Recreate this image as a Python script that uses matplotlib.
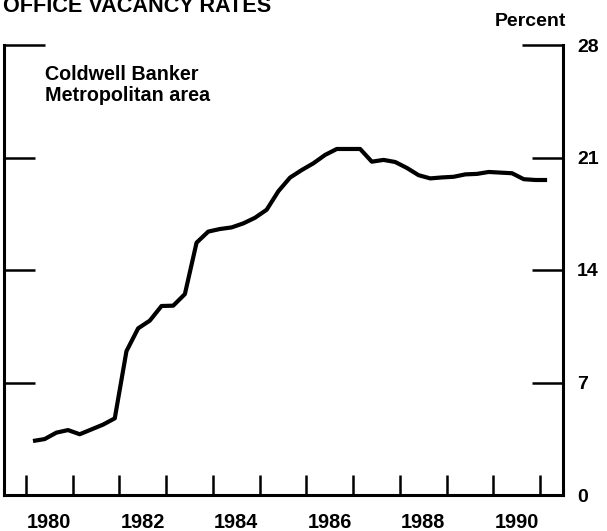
import matplotlib
matplotlib.use("Agg")
import matplotlib.pyplot as plt
import numpy as np
import pandas as pd

plt.rcParams['font.family'] = ['Liberation Sans', 'DejaVu Sans']
plt.rcParams['font.weight'] = 'bold'

# Quarterly observations, 1980Q1 .. 1991Q1
quarters = pd.period_range('1980Q1', '1991Q1', freq='Q')
vacancy = [3.36, 3.48, 3.88, 4.04, 3.78, 4.08, 4.38, 4.77,
           8.95, 10.37, 10.85, 11.76, 11.78, 12.50, 15.70, 16.39,
           16.55, 16.65, 16.90, 17.25, 17.75, 18.90, 19.75, 20.22,
           20.64, 21.16, 21.53, 21.53, 21.53, 20.74, 20.85, 20.72,
           20.35, 19.90, 19.70, 19.76, 19.80, 19.95, 19.98, 20.10,
           20.06, 20.02, 19.65, 19.60, 19.60]
year_ticks = list(range(1980, 1992))
label_years = [1980, 1982, 1984, 1986, 1988, 1990]
y_major = [0, 7, 14, 21]
y_top = [28]

x = np.array([p.year + (p.quarter - 1) / 4 + 0.15 for p in quarters])

fig = plt.figure(figsize=(6.07, 5.31), dpi=100)
ax = fig.add_axes([4/607, 1 - 495/531, (563 - 4)/607, (495 - 45)/531])

ax.plot(x, vacancy, color='black', lw=3.0, solid_capstyle='butt', solid_joinstyle='round')

ax.set_xlim(1979.53, 1991.49)
ax.set_ylim(0, 28)

for s in ['left', 'right', 'bottom']:
    ax.spines[s].set_linewidth(2.2)
ax.spines['top'].set_visible(False)

ax.set_xticks(year_ticks)
ax.set_xticklabels([])
ax.set_xticks([y + 0.5 for y in label_years], minor=True)
ax.set_xticklabels([str(y) for y in label_years], minor=True)
ax.tick_params(axis='x', which='major', direction='in', length=14.4, width=1.8, top=False)
ax.tick_params(axis='x', which='minor', length=0, pad=13, labelsize=14.3)

ax.set_yticks(y_major)
ax.set_yticklabels([str(v) for v in y_major])
ax.set_yticks(y_top, minor=True)
ax.set_yticklabels([str(v) for v in y_top], minor=True)
ax.tick_params(axis='y', which='both', left=True, right=True, labelleft=False, labelright=True,
               direction='in', width=1.8, pad=10, labelsize=14)
ax.tick_params(axis='y', which='major', length=22.3)
ax.tick_params(axis='y', which='minor', length=29.5)

for lab in ax.get_xticklabels(minor=True) + ax.get_yticklabels() + ax.get_yticklabels(minor=True):
    lab.set_fontweight('bold')

ax.text(45/607, 1 - 101/531, "Coldwell Banker\nMetropolitan area", transform=fig.transFigure,
        fontsize=14.2, fontweight='bold', ha='left', va='baseline', linespacing=1.12)

fig.text(3/607, 1 - 12/531, "OFFICE VACANCY RATES", fontsize=15.6, fontweight='bold',
         ha='left', va='baseline')
fig.text(566/607, 1 - 26/531, "Percent", fontsize=14, fontweight='bold', ha='right', va='baseline')

fig.savefig("out.png", dpi=100)
